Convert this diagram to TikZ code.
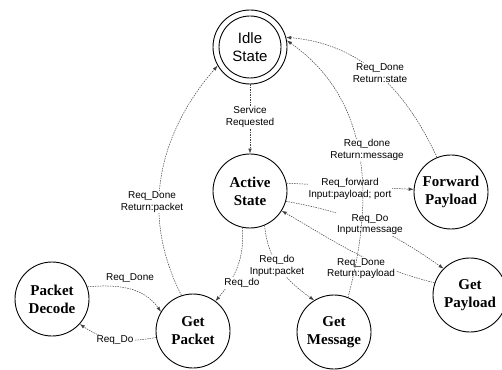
\documentclass[tikz,border=0pt]{standalone}
\usepackage{fontspec}
\setmainfont{Liberation Serif}
\setsansfont{Liberation Sans}
\usetikzlibrary{arrows.meta}
\begin{document}
\begin{tikzpicture}[x=1pt,y=1pt,
  state/.style={circle,draw,line width=0.9pt,minimum size=74pt,inner sep=0pt,align=center,
    font=\fontsize{15}{18}\selectfont\bfseries},
  idlestate/.style={state,font=\sffamily\fontsize{15}{18}\selectfont},
  edge/.style={draw=black!75,line width=0.5pt,dash pattern=on 1.5pt off 1pt,
    -{Latex[length=5pt,width=3.5pt]}},
  lbl/.style={font=\sffamily\fontsize{10}{11.5}\selectfont,align=center,fill=white,inner sep=1pt}]
\useasboundingbox (0,0) rectangle (502,369);

% states
\node[idlestate] (idle) at (250,322) {Idle\\State};
\draw[line width=0.9pt] (idle.center) circle[radius=31];
\node[state] (active) at (250,178) {Active\\State};
\node[state] (fwd) at (451,177) {Forward\\Payload};
\node[state] (gpl) at (470,74) {Get\\Payload};
\node[state] (gmsg) at (334,37) {Get\\Message};
\node[state] (gpk) at (193,38) {Get\\Packet};
\node[state] (pd) at (52,70) {Packet\\Decode};

% transitions
\draw[edge] (idle) -- (active);
\draw[edge] (fwd.112) to[out=115,in=-5] (idle.15);
\draw[edge] (gpk.108) to[out=117,in=229] (idle.210);
\draw[edge] (active.12) -- (fwd.176);
\draw[edge] (active.-16) to[out=-10,in=145] (gpl.135);
\draw[edge] (gpl.161) to[out=166,in=-30] (active.-32);
\draw[edge] (active.-67) to[out=-85,in=145] (gmsg.122);
\draw[edge] (active.-102) to[out=-85,in=50] (gpk.53);
\draw[edge] (pd.19) to[out=5,in=125] (gpk.149);
\draw[edge] (gpk.190) to[out=190,in=-35] (pd.-42);

% labels
\node[lbl] (svc) at (250,252) {Service\\Requested};
\node[lbl] (rs) at (380,296) {Req\_Done\\Return:state};
\node[lbl] (rp) at (152,167) {Req\_Done\\Return:packet};
\node[lbl] (rf) at (350,180) {Req\_forward\\Input:payload; port};
\node[lbl] (rdo) at (370,144.5) {Req\_Do\\Input:message};
\node[lbl] (rdp) at (361,100.5) {Req\_Done\\Return:payload};
\node[lbl] (rip) at (277,103) {Req\_do\\Input:packet};
\node[lbl] (rd) at (242,86) {Req\_do};
\node[lbl] (rdn) at (130,91) {Req\_Done};
\node[lbl] (rD) at (115,29) {Req\_Do};

\draw[edge] (gmsg.68) to[out=75,in=-35] (idle.10);
\node[lbl] (rm) at (367,219) {Req\_done\\Return:message};
\end{tikzpicture}
\end{document}
